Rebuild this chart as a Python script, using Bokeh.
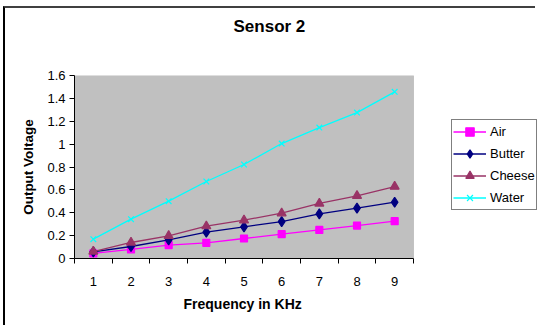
from bokeh.plotting import figure
from bokeh.models import Range1d, FixedTicker, Legend, LegendItem, Title, BoxAnnotation, LinearAxis
from bokeh.embed import file_html
from bokeh.resources import INLINE

freq = [1, 2, 3, 4, 5, 6, 7, 8, 9]
air = [0.044, 0.079, 0.117, 0.137, 0.175, 0.213, 0.250, 0.288, 0.326]
butter = [0.058, 0.105, 0.163, 0.230, 0.277, 0.323, 0.390, 0.440, 0.492]
cheese = [0.061, 0.140, 0.198, 0.283, 0.335, 0.396, 0.481, 0.548, 0.629]
water = [0.169, 0.344, 0.501, 0.673, 0.822, 1.005, 1.145, 1.276, 1.457]
y_ticks = [0, 0.2, 0.4, 0.6, 0.8, 1.0, 1.2, 1.4, 1.6]
y_tick_labels = ["0", "0.2", "0.4", "0.6", "0.8", "1", "1.2", "1.4", "1.6"]
x_bounds = [0.5, 1.5, 2.5, 3.5, 4.5, 5.5, 6.5, 7.5, 8.5, 9.5]

FONT = "Liberation Sans"

# frame spans the plot area plus the legend strip on the right
X_LO, X_HI = 0.5, 9.5
X_VIEW_END = X_LO + (X_HI - X_LO) * 463.0 / 339.0

p = figure(width=532, height=319, output_backend="svg", toolbar_location=None,
           x_range=Range1d(X_LO, X_VIEW_END), y_range=Range1d(0, 1.6),
           min_border_left=69, min_border_right=0, min_border_top=67, min_border_bottom=69)
p.styles = {"margin-left": "3px", "margin-top": "6px",
            "border-top": "2px solid #404040", "border-left": "2px solid #000000"}

p.background_fill_color = "white"
p.border_fill_color = "white"
p.outline_line_color = None
p.grid.visible = False

xa = p.below[0]
ya = p.left[0]

plot_area = BoxAnnotation(left=X_LO, right=X_HI, bottom=0, top=1.6,
                          fill_color="#C0C0C0", fill_alpha=1.0,
                          line_color="#808080", line_width=1, level="underlay")
p.add_layout(plot_area)

# invisible spacer between frame and chart title (one hidden tick gives it height)
spacer = LinearAxis(ticker=FixedTicker(ticks=[5], minor_ticks=[]),
                    major_label_overrides={5: ""}, major_label_text_font_size="1px",
                    axis_line_color=None, major_tick_line_color=None, minor_tick_line_color=None,
                    major_tick_out=37, major_tick_in=0, minor_tick_out=0, minor_tick_in=0,
                    major_label_standoff=0, axis_label_standoff=0)
p.add_layout(spacer, "above")

t = Title(text="Sensor 2", align="left", offset=159, standoff=6,
          text_font=FONT, text_font_size="17px", text_font_style="bold", text_color="black")
p.add_layout(t, "above")

xa.bounds = (X_LO, X_HI)
xa.ticker = FixedTicker(ticks=freq, minor_ticks=x_bounds)
xa.major_tick_out = 0
xa.major_tick_in = 0
xa.minor_tick_out = 5
xa.minor_tick_in = 0
xa.minor_tick_line_color = "black"
xa.axis_line_color = "black"
xa.major_label_standoff = 13
xa.major_label_text_font = FONT
xa.major_label_text_font_size = "13px"
xa.major_label_text_color = "black"

ya.ticker = FixedTicker(ticks=y_ticks, minor_ticks=[])
ya.major_label_overrides = {tk: lb for tk, lb in zip(y_ticks, y_tick_labels)}
ya.major_tick_out = 5
ya.major_tick_in = 0
ya.major_tick_line_color = "black"
ya.axis_line_color = "black"
ya.major_label_standoff = 4
ya.major_label_text_font = FONT
ya.major_label_text_font_size = "13px"
ya.major_label_text_color = "black"
ya.axis_label = "Output Voltage"
ya.axis_label_text_font = FONT
ya.axis_label_text_font_size = "13.5px"
ya.axis_label_text_font_style = "bold"
ya.axis_label_text_color = "black"
ya.axis_label_standoff = 8

# x axis title centred under the plot area (not the wider frame)
xt = Title(text="Frequency in KHz", align="left", offset=109, standoff=10, text_font=FONT,
           text_font_size="14px", text_font_style="bold", text_color="black")
p.add_layout(xt, "below")

series = [
    ("Air", air, "#FF00FF", "square", 7),
    ("Butter", butter, "#000080", "diamond", 10),
    ("Cheese", cheese, "#993366", "triangle", 9),
    ("Water", water, "#00FFFF", "x", 8),
]
items = []
for name, vals, col, mk, sz in series:
    ln = p.line(freq, vals, line_color=col, line_width=1.3)
    sc = p.scatter(freq, vals, marker=mk, size=sz, fill_color=col, line_color=col, line_width=1.2)
    items.append(LegendItem(label=name, renderers=[ln, sc]))

legend = Legend(items=items, location=(377, 48), margin=0, padding=1, spacing=1,
                glyph_width=33, glyph_height=21, label_height=21, label_standoff=4,
                label_text_font=FONT, label_text_font_size="13px", label_text_color="black",
                border_line_color="black", border_line_width=1,
                background_fill_color="white", background_fill_alpha=1.0)
p.add_layout(legend, "center")

open("out.html", "w").write(file_html(p, INLINE))
